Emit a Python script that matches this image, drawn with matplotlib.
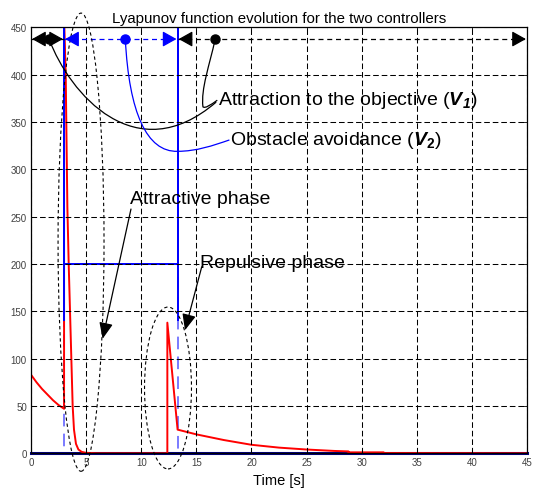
"""Lyapunov function evolution for the two controllers."""

import matplotlib

matplotlib.use("Agg")

import matplotlib.pyplot as plt
from matplotlib.patches import Ellipse, PathPatch, Rectangle
from matplotlib.path import Path

# Lyapunov function values
time_v = [0.0, 0.5, 1.0, 1.5, 2.0, 2.5, 3.0, 3.0, 3.15, 3.3, 3.42, 3.54, 3.66,
          3.78, 3.9, 4.08, 4.3, 4.6, 5.0, 6.0, 12.37, 12.37, 13.3, 15.0, 17.5,
          20.0, 22.5, 25.0, 27.5, 28.8, 28.8, 32.0, 32.0, 45.0]
value_v = [83, 75, 68, 62, 56, 51, 47, 460, 400, 260, 200, 150, 100,
           50, 25, 10, 4, 1.5, 0.5, 0, 0, 138, 25, 20, 14,
           9, 6, 4, 2.5, 2, 1, 1, 0.3, 0]

# Active controller signal (blue)
time_sw = [0.0, 3.0, 3.0, 3.0, 13.3, 13.3, 13.3, 45.0]
value_sw = [0, 0, 600, 200, 200, 600, 0, 0]

phase_edges = [0.0, 3.0, 13.3, 45.0]
phase_marks = [1.66, 8.56, 16.7]

x_ticks = list(range(0, 46, 5))
y_ticks = list(range(0, 451, 50))

plt.rcParams["font.family"] = ["Liberation Sans", "DejaVu Sans"]
plt.rcParams["mathtext.fontset"] = "custom"
plt.rcParams["mathtext.rm"] = "Liberation Sans"
plt.rcParams["mathtext.it"] = "Liberation Sans:italic"
plt.rcParams["mathtext.bf"] = "Liberation Sans:bold"
plt.rcParams["mathtext.bfit"] = "Liberation Sans:bold:italic"

BLUE = "#0000FF"
RED = "#FF0000"
GRID_DASH = (0, (5.4, 2.8))


def bezier(ax, pts, color="black", lw=0.9):
    codes = [Path.MOVETO] + [Path.CURVE4] * (len(pts) - 1)
    ax.add_patch(PathPatch(Path(pts, codes), fill=False, edgecolor=color,
                           linewidth=lw, clip_on=False, zorder=4))


def head(ax, tip, tail, color, scale=17):
    ax.annotate("", xy=tip, xytext=tail,
                arrowprops=dict(arrowstyle="-|>,head_length=0.5,head_width=0.28",
                                color=color, lw=0.9, mutation_scale=scale,
                                shrinkA=0, shrinkB=0),
                annotation_clip=False, zorder=5)


fig = plt.figure(figsize=(5.34, 4.89), dpi=100)
ax = fig.add_axes([31 / 534, 1 - 454.3 / 489, 496 / 534, 426 / 489])

ax.set_xlim(0, 45)
ax.set_ylim(0, 450)
ax.set_xticks(x_ticks)
ax.set_yticks(y_ticks)
ax.tick_params(direction="in", length=3, width=0.6, labelsize=7, colors="black",
               labelcolor="#404040", top=True, right=True, pad=3)
ax.grid(True, color="black", linestyle=GRID_DASH, linewidth=0.75)
ax.set_axisbelow(False)
for spine in ax.spines.values():
    spine.set_linewidth(0.9)

# controller switching signal: light dashed below, solid above
ax.plot(time_sw, value_sw, color="#7070FF", lw=1.3, linestyle=(0, (7, 4)), zorder=2)
ax.plot(time_v, value_v, color=RED, lw=1.4, zorder=2.2)
solid, = ax.plot(time_sw, value_sw, color=BLUE, lw=1.4, zorder=2.3)
solid.set_clip_path(Rectangle((0, 140), 45, 310, transform=ax.transData))
ax.plot([0, 45], [0, 0], color="#000080", lw=2.2, zorder=2, clip_on=False)

# phase bars at the top
y_bar = 437.6
ax.plot(phase_edges[0:2], [y_bar, y_bar], color="black", lw=0.9, zorder=4)
ax.plot(phase_edges[1:3], [y_bar, y_bar], color=BLUE, lw=0.9,
        linestyle=(0, (4, 3)), zorder=4)
ax.plot(phase_edges[2:4], [y_bar, y_bar], color="black", lw=0.9,
        linestyle=(0, (4, 3)), zorder=4)
bar_colors = ["black", BLUE, "black"]
for i, c in enumerate(bar_colors):
    left, right = phase_edges[i], phase_edges[i + 1]
    head(ax, (left + 0.1, y_bar), (left + 1.0, y_bar), c)
    head(ax, (right - 0.1, y_bar), (right - 1.0, y_bar), c)
    ax.plot(phase_marks[i], y_bar, "o", color=c, markersize=6.5, zorder=6)

# leader curves to the labels
bezier(ax, [(1.66, 437), (3.5, 380), (9.5, 298), (16.8, 371)])
bezier(ax, [(16.7, 437), (16.2, 410), (15.4, 385), (15.6, 366),
            (15.8, 364), (16.3, 368), (16.9, 373)])
bezier(ax, [(8.56, 437), (8.9, 360), (10.5, 318), (13.3, 319),
            (15.0, 319), (16.5, 325), (18.0, 331)], color=BLUE)

ax.text(16.97, 374, "Attraction to the objective ($\\mathbfit{V}_{\\mathbfit{1}}$)",
        fontsize=14, va="center", ha="left", zorder=7)
ax.text(18.06, 331, "Obstacle avoidance ($\\mathbfit{V}_{\\mathbf{2}}$)",
        fontsize=14, va="center", ha="left", zorder=7)
ax.text(8.98, 269, "Attractive phase", fontsize=14, va="center", ha="left", zorder=7)
ax.text(15.3, 202, "Repulsive phase", fontsize=14, va="center", ha="left", zorder=7)

ax.annotate("", xy=(6.5, 121), xytext=(9.07, 258),
            arrowprops=dict(arrowstyle="-|>,head_length=0.7,head_width=0.3",
                            color="black", lw=0.9, mutation_scale=14,
                            shrinkA=0, shrinkB=0))
ax.annotate("", xy=(13.97, 130), xytext=(15.49, 197),
            arrowprops=dict(arrowstyle="-|>,head_length=0.7,head_width=0.3",
                            color="black", lw=0.9, mutation_scale=14,
                            shrinkA=0, shrinkB=0))

# dashed ellipses around the two phases
ax.add_patch(Ellipse((4.54, 223), 4.17, 484, fill=False, edgecolor="black",
                     lw=0.8, linestyle=(0, (3, 2.5)), clip_on=False, zorder=4))
ax.add_patch(Ellipse((12.43, 69), 4.26, 171, fill=False, edgecolor="black",
                     lw=0.8, linestyle=(0, (3, 2.5)), clip_on=False, zorder=4))

ax.set_title("Lyapunov function evolution for the two controllers",
             fontsize=10.8, pad=4)
ax.set_xlabel("Time [s]", fontsize=10.5, labelpad=4)

fig.savefig("out.png", dpi=100, facecolor="white")
